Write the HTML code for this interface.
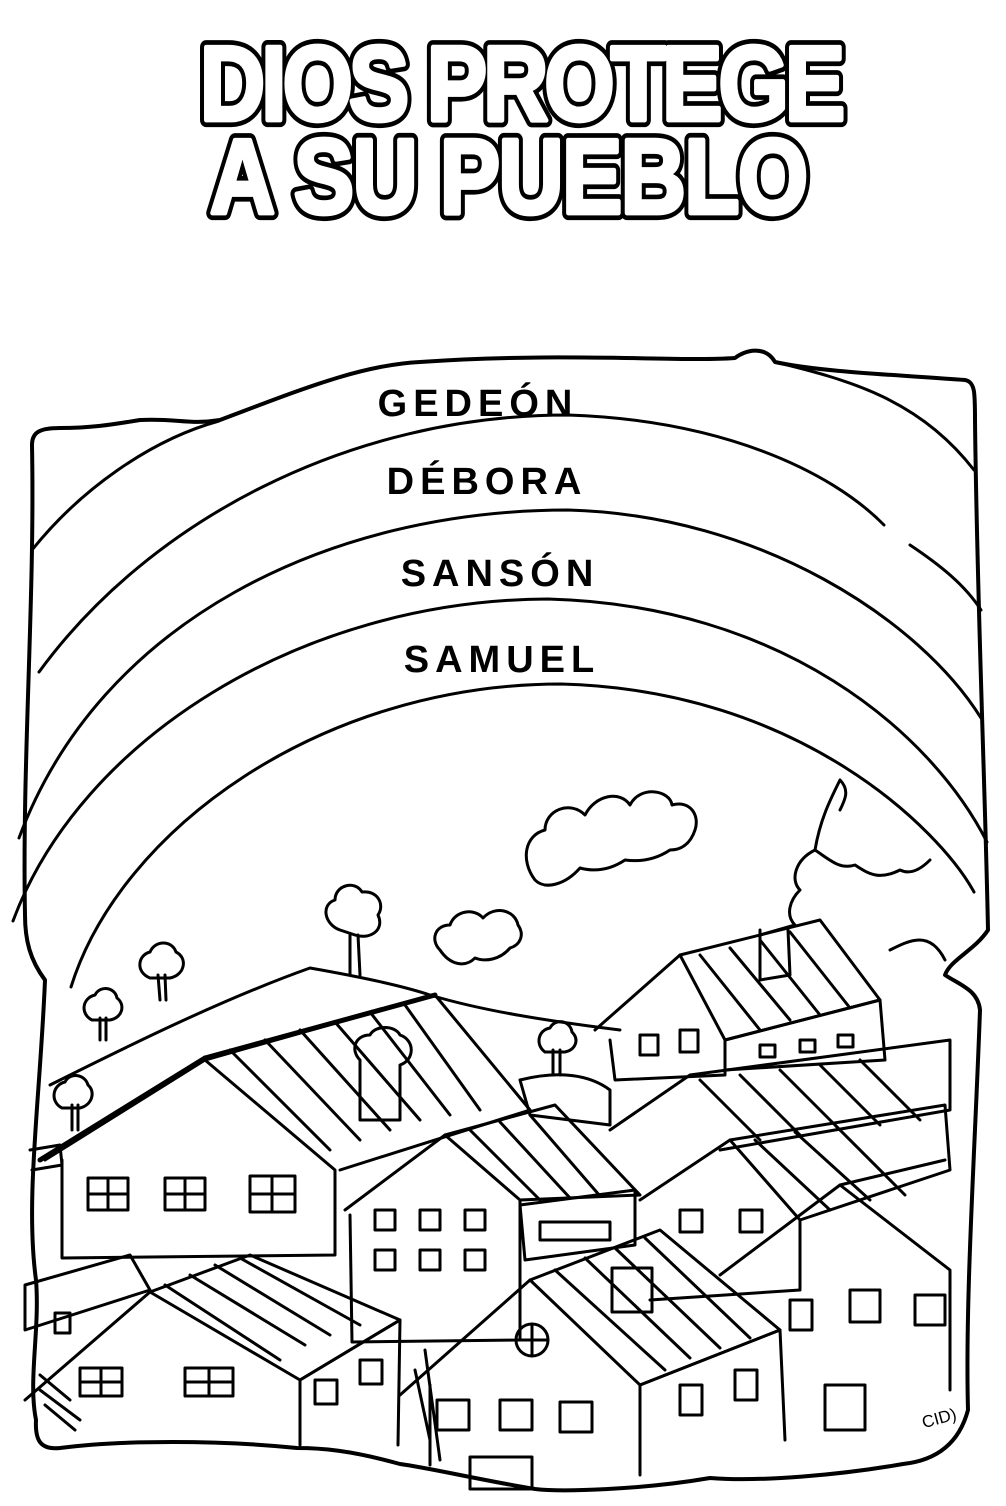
<!DOCTYPE html>
<html><head><meta charset="utf-8"><style>html,body{margin:0;padding:0;background:#fff}svg{display:block}</style></head>
<body>
<svg width="1006" height="1506" viewBox="0 0 1006 1506" xmlns="http://www.w3.org/2000/svg">
<rect width="1006" height="1506" fill="#fff"/>
<g font-family="Liberation Sans, sans-serif" font-weight="bold" font-size="90" stroke-linejoin="round">
 <g transform="translate(0,120) scale(1,1.18)">
 <text x="200" y="0" textLength="645" lengthAdjust="spacing" fill="#000" stroke="#000" stroke-width="12">DIOS PROTEGE</text>
 <text x="200" y="0" textLength="645" lengthAdjust="spacing" fill="#fff" stroke="#fff" stroke-width="4">DIOS PROTEGE</text>
 </g>
 <g transform="translate(0,213) scale(1,1.18)">
 <text x="210" y="0" textLength="598" lengthAdjust="spacing" fill="#000" stroke="#000" stroke-width="12">A SU PUEBLO</text>
 <text x="210" y="0" textLength="598" lengthAdjust="spacing" fill="#fff" stroke="#fff" stroke-width="4">A SU PUEBLO</text>
 </g>
</g>
<g fill="none" stroke="#000" stroke-width="3" stroke-linecap="round" stroke-linejoin="round">
 <!-- frame -->
 <path d="M32,445 C32,432 40,428 60,428 C90,428 110,425 140,420 C175,418 190,425 220,420 C300,390 360,365 420,362 C560,352 680,362 735,358 C745,350 765,345 775,362 C820,372 900,375 965,380 C975,382 975,392 975,420 C977,600 985,780 988,930 C975,950 950,960 945,975 C960,985 978,990 980,1010 C975,1150 965,1300 968,1410 C960,1440 940,1460 903,1464 C840,1475 760,1482 710,1478 C640,1490 560,1492 535,1489 C480,1480 430,1468 400,1464 C350,1450 320,1448 297,1448 C220,1440 120,1440 60,1448 C40,1450 35,1440 36,1420 C28,1380 40,1330 36,1280 C25,1200 40,1100 45,980 C30,960 25,940 25,915 C22,760 35,600 32,445 Z" stroke-width="4"/>
 <!-- arcs -->
 <path d="M32,550 C80,490 150,440 219,421"/>
 <path d="M775,362 C850,380 920,400 974,470"/>
 <path d="M39,672 C150,520 350,415 568,415 C720,420 830,470 884,525"/>
 <path d="M910,545 C940,565 965,585 981,610"/>
 <path d="M19,838 C100,620 330,510 568,510 C760,515 920,620 981,718"/>
 <path d="M13,921 C80,740 300,600 548,599 C780,605 930,730 987,842"/>
 <path d="M71,987 C120,830 320,684 561,684 C800,690 940,830 974,892"/>
 <!-- clouds -->
 <path d="M535,880 C520,860 525,835 545,830 C545,810 570,800 585,815 C595,795 620,790 630,805 C640,785 670,790 672,805 C690,800 700,815 695,830 C690,845 680,850 670,850 C655,860 640,862 625,860 C610,870 595,872 580,868 C565,885 545,890 535,880 Z"/>
 <path d="M440,950 C430,940 435,925 450,925 C455,910 475,908 483,918 C495,905 515,910 518,925 C525,935 520,945 510,948 C500,960 485,962 475,958 C465,968 450,965 440,950 Z"/>
 <path d="M840,780 C830,800 820,820 815,850 C795,860 790,880 800,890 C790,900 785,915 795,925 L760,935 M840,780 C850,790 845,800 840,810 M815,850 C830,860 840,870 855,865 C870,875 880,880 900,870 C910,875 920,870 930,860"/>
 <!-- trees -->
 <path d="M350,975 L350,935 M360,975 L358,935 M340,930 C325,925 320,905 335,900 C335,885 355,880 362,892 C378,890 385,905 378,915 C385,930 370,940 355,935 Z"/>
 <path d="M160,1000 L158,975 M166,1000 L165,975 M150,978 C135,972 138,955 150,952 C155,940 172,940 176,952 C188,958 185,975 170,978 Z"/>
 <path d="M100,1040 L100,1018 M106,1040 L106,1018 M92,1020 C80,1014 82,998 95,995 C100,985 115,987 117,998 C126,1005 122,1018 110,1020 Z"/>
 <path d="M72,1130 L72,1105 M78,1130 L78,1105 M62,1108 C50,1102 52,1085 65,1082 C70,1072 85,1074 88,1085 C96,1092 92,1105 80,1108 Z"/>
 <path d="M553,1075 L553,1050 M560,1075 L560,1050 M545,1052 C535,1045 538,1030 550,1028 C555,1018 570,1020 572,1032 C580,1040 575,1050 565,1052 Z"/>
 <!-- hills -->
 <path d="M50,1085 C120,1050 220,1000 310,968 C350,975 400,985 430,995"/>
 <path d="M430,995 C480,1010 540,1020 620,1030"/>
 <path d="M890,950 C910,940 930,930 945,960"/>
 <!-- big left house -->
 <path d="M45,1160 L205,1060 L335,1170 L335,1255 L62,1258 L62,1160"/>
 <path d="M205,1060 L435,995 L530,1110 L340,1170"/>
 <path d="M230,1050 L330,1150 M265,1040 L360,1140 M300,1030 L390,1130 M335,1022 L420,1120 M370,1012 L450,1115 M405,1005 L480,1110"/>
 <path d="M40,1160 L205,1058" stroke-width="5"/>
 <path d="M205,1058 L435,995" stroke-width="5"/>
 <rect x="88" y="1178" width="40" height="32"/><path d="M108,1178V1210M88,1194H128"/>
 <rect x="165" y="1178" width="40" height="32"/><path d="M185,1178V1210M165,1194H205"/>
 <rect x="250" y="1176" width="45" height="36"/><path d="M272,1176V1212M250,1194H295"/>
 <path d="M360,1060 C350,1050 355,1035 370,1035 C375,1025 395,1025 400,1035 C415,1040 415,1060 400,1065 L400,1120 L360,1120 Z"/>
 <!-- middle house -->
 <path d="M345,1210 L445,1135 L520,1200 L520,1340 L352,1342 L350,1215"/>
 <path d="M445,1135 L555,1105 L640,1195 L520,1200"/>
 <path d="M470,1130 L540,1200 M500,1122 L570,1198 M530,1115 L600,1196"/>
 <g>
 <rect x="375" y="1210" width="20" height="20"/><rect x="420" y="1210" width="20" height="20"/><rect x="465" y="1210" width="20" height="20"/>
 <rect x="375" y="1250" width="20" height="20"/><rect x="420" y="1250" width="20" height="20"/><rect x="465" y="1250" width="20" height="20"/>
 </g>
 <path d="M520,1205 L635,1190 L635,1245 L525,1260 Z"/><rect x="540" y="1222" width="70" height="18"/>
 <path d="M520,1080 C560,1070 590,1075 610,1090 L610,1125 L530,1115 Z"/>
 <!-- bottom left house -->
 <path d="M25,1400 L150,1292 L300,1380 L300,1445 M150,1292 L250,1255 L400,1320 L300,1380"/>
 <path d="M300,1380 L400,1320 L398,1445"/>
 <path d="M165,1285 L280,1360 M190,1275 L305,1345 M215,1265 L330,1335 M240,1258 L360,1325"/>
 <rect x="80" y="1368" width="42" height="28"/><path d="M101,1368V1396M80,1382H122"/>
 <rect x="185" y="1368" width="48" height="28"/><path d="M209,1368V1396M185,1382H233"/>
 <rect x="315" y="1380" width="22" height="24"/><rect x="360" y="1360" width="22" height="24"/>
 <path d="M25,1285 L130,1255 L150,1290 L25,1330 Z"/>
 <rect x="55" y="1313" width="15" height="20"/>
 <path d="M40,1390 L80,1420 M45,1405 L75,1430 M40,1375 L70,1400"/>
 <!-- bottom middle house -->
 <path d="M400,1395 L530,1280 L640,1385 L640,1475 M430,1385 L430,1465"/>
 <path d="M530,1280 L660,1230 L780,1330 L640,1385"/>
 <path d="M555,1270 L665,1370 M585,1258 L690,1358 M615,1248 L720,1348 M645,1238 L750,1338"/>
 <path d="M640,1385 L780,1330 L785,1440"/>
 <circle cx="532" cy="1340" r="16"/><path d="M532,1324V1356M516,1340H548"/>
 <rect x="437" y="1400" width="32" height="30"/><rect x="500" y="1400" width="32" height="30"/><rect x="560" y="1402" width="32" height="30"/>
 <rect x="470" y="1457" width="62" height="32"/>
 <rect x="612" y="1268" width="40" height="44"/>
 <rect x="680" y="1385" width="22" height="30"/><rect x="735" y="1370" width="22" height="30"/>
 <path d="M425,1350 L440,1460 M415,1370 L430,1440"/>
 <!-- right houses -->
 <path d="M595,1030 L680,955 L725,1040 L725,1075 L615,1080 L610,1040"/>
 <path d="M680,955 L820,920 L880,1000 L725,1040"/>
 <path d="M700,955 L760,1030 M730,948 L790,1020 M760,940 L820,1015 M790,932 L850,1008"/>
 <path d="M725,1040 L880,1000 L885,1060 L725,1070"/>
 <rect x="640" y="1035" width="18" height="20"/><rect x="680" y="1030" width="18" height="22"/>
 <rect x="760" y="1045" width="15" height="12"/><rect x="800" y="1040" width="15" height="12"/><rect x="838" y="1035" width="15" height="12"/>
 <path d="M760,930 L760,980 L790,975 L788,930"/>
 <path d="M610,1130 L690,1075 L950,1040 L950,1110 L720,1150"/>
 <path d="M700,1080 L760,1140 M740,1075 L800,1135 M780,1070 L840,1130 M820,1065 L880,1125 M860,1060 L920,1120"/>
 <path d="M640,1200 L730,1140 L800,1220 L800,1290 L650,1300"/>
 <path d="M730,1140 L945,1105 L950,1170 L800,1220"/>
 <path d="M755,1140 L830,1210 M795,1132 L870,1200 M835,1125 L905,1195"/>
 <rect x="680" y="1210" width="22" height="22"/><rect x="740" y="1210" width="22" height="22"/>
 <path d="M720,1275 L840,1185 L950,1270 L950,1390"/>
 <path d="M840,1185 L945,1160"/>
 <rect x="790" y="1300" width="22" height="30"/><rect x="850" y="1290" width="30" height="32"/><rect x="915" y="1295" width="30" height="30"/>
 <rect x="825" y="1385" width="40" height="45"/>
 <path d="M30,1150 L60,1145 L62,1165 L32,1170"/>
</g>
<g font-family="Liberation Sans, sans-serif" font-weight="bold" font-size="38" fill="#000" text-anchor="middle">
 <text x="478" y="416" letter-spacing="6">GEDEÓN</text>
 <text x="487" y="494" letter-spacing="6">DÉBORA</text>
 <text x="500" y="586" letter-spacing="6">SANSÓN</text>
 <text x="502" y="672" letter-spacing="6">SAMUEL</text>
</g>
<text x="922" y="1425" font-family="Liberation Sans, sans-serif" font-size="17" transform="rotate(-15 935 1420)">CID)</text>
</svg>
</body></html>
